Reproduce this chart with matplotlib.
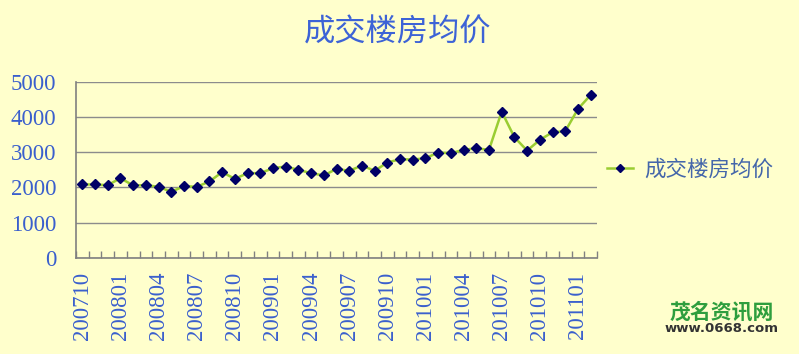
import matplotlib
matplotlib.use("Agg")
import matplotlib.pyplot as plt

months = ["200710", "200711", "200712",
          "200801", "200802", "200803", "200804", "200805", "200806",
          "200807", "200808", "200809", "200810", "200811", "200812",
          "200901", "200902", "200903", "200904", "200905", "200906",
          "200907", "200908", "200909", "200910", "200911", "200912",
          "201001", "201002", "201003", "201004", "201005", "201006",
          "201007", "201008", "201009", "201010", "201011", "201012",
          "201101", "201102"]
prices = [2085, 2085, 2066, 2264, 2057, 2066, 2019, 1877, 2038, 2019,
          2170, 2434, 2245, 2406, 2406, 2547, 2594, 2500, 2406, 2340,
          2528, 2472, 2623, 2472, 2708, 2802, 2792, 2830, 2991, 2972,
          3066, 3113, 3066, 4151, 3425, 3047, 3349, 3566, 3594, 4226, 4623]
yticks = [0, 1000, 2000, 3000, 4000, 5000]
series_name = "成交楼房均价"
title = "成交楼房均价"

bg = "#FFFFCC"
txt = "#3A5FCD"
W, H = 799, 354
fig = plt.figure(figsize=(W / 100, H / 100), dpi=100, facecolor=bg)
ax = fig.add_axes([76 / W, 1 - 258 / H, (597 - 76) / W, (258 - 81.7) / H])
ax.set_facecolor(bg)

x = list(range(len(prices)))
line, = ax.plot(x, prices, color="#9ACD32", lw=1.8, marker="D", ms=4.8,
                mfc="#000066", mec="#000066", zorder=3)

ax.set_xlim(-0.5, len(prices) - 0.5)
ax.set_ylim(0, 5000)
ax.set_yticks(yticks)
ax.set_yticklabels([str(v) for v in yticks], fontfamily="Liberation Serif",
                   fontsize=16.5, color=txt)
ax.grid(axis="y", color="#8C8C8C", lw=1)
ax.set_axisbelow(True)

ax.set_xticks([i - 0.5 for i in range(len(prices) + 1)], minor=True)
ax.set_xticks(x[::3])
ax.set_xticklabels(months[::3], rotation=90, fontfamily="Liberation Serif",
                   fontsize=16.5, color=txt)
ax.tick_params(axis="x", which="major", length=0, pad=10)
ax.tick_params(axis="x", which="minor", direction="in", length=5, color="#808080", width=1)
ax.tick_params(axis="y", length=0, pad=14)
for s in ["top", "right"]:
    ax.spines[s].set_visible(False)
for s in ["left", "bottom"]:
    ax.spines[s].set_color("#808080")
    ax.spines[s].set_linewidth(1.2)

fig.text(398 / W, 1 - 33 / H, title, ha="center", va="center",
         fontfamily=["Noto Sans CJK SC", "DejaVu Sans"], fontsize=22.5,
         fontweight="medium", color="#3D63D6")

leg = fig.legend([line], [series_name], loc="center left",
                 bbox_to_anchor=(588 / W, 1 - 170 / H), frameon=False,
                 prop={"family": ["Noto Sans CJK SC", "DejaVu Sans"], "size": 15.5},
                 handlelength=1.2, handletextpad=0.5, markerscale=0.8)
for t in leg.get_texts():
    t.set_color("#4466AA")

fig.text(722 / W, 1 - 312 / H, "茂名资讯网", ha="center", va="center",
         fontfamily=["Noto Sans CJK SC", "DejaVu Sans"], fontsize=15,
         fontweight="black", style="italic", color="#2E9E3E")
fig.text(722 / W, 1 - 328.5 / H, "www.0668.com", ha="center", va="center",
         fontfamily="DejaVu Sans", fontsize=9.5, fontweight="bold", color="#333333")

fig.savefig("out.png", dpi=100, facecolor=bg)
